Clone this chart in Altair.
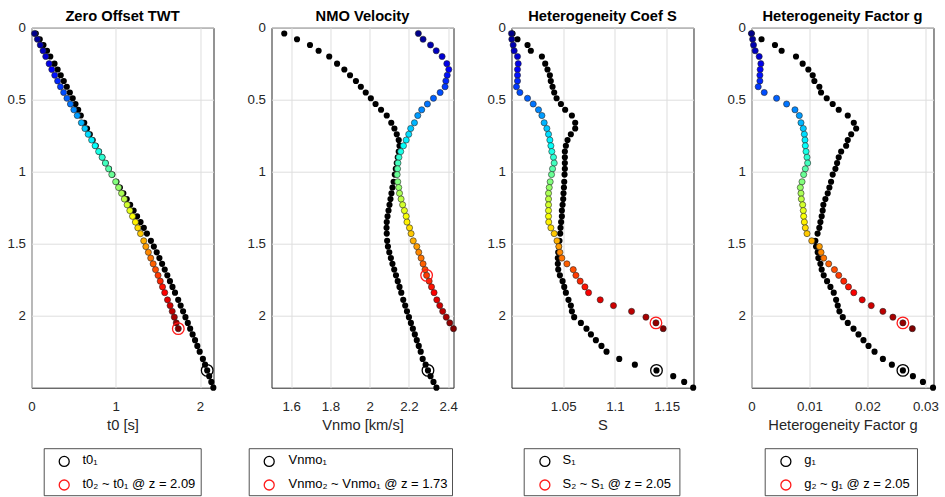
import altair as alt
import pandas as pd

# ---------------- data ----------------
depth = [0.04, 0.08, 0.12, 0.16, 0.20, 0.25, 0.29, 0.33, 0.37, 0.41,
         0.45, 0.49, 0.53, 0.57, 0.61, 0.66, 0.70, 0.74, 0.78, 0.82,
         0.86, 0.90, 0.94, 0.98, 1.02, 1.07, 1.11, 1.15, 1.19, 1.23,
         1.27, 1.31, 1.35, 1.39, 1.43, 1.48, 1.52, 1.56, 1.60, 1.64,
         1.68, 1.72, 1.76, 1.80, 1.84, 1.89, 1.93, 1.97, 2.01, 2.05,
         2.09, 2.13, 2.17, 2.21, 2.25, 2.30, 2.34, 2.38, 2.42, 2.46, 2.50]

t0_1 = [0.051, 0.098, 0.142, 0.184, 0.223, 0.273, 0.310, 0.347, 0.383, 0.419,
        0.455, 0.489, 0.522, 0.554, 0.585, 0.626, 0.659, 0.692, 0.726, 0.762,
        0.801, 0.840, 0.879, 0.919, 0.959, 1.008, 1.049, 1.090, 1.130, 1.171,
        1.212, 1.253, 1.294, 1.333, 1.370, 1.417, 1.452, 1.486, 1.518, 1.550,
        1.581, 1.612, 1.643, 1.673, 1.703, 1.741, 1.770, 1.799, 1.827, 1.855,
        1.883, 1.912, 1.941, 1.968, 1.996, 2.034, 2.060, 2.085, 2.109, 2.134, 2.158]
t0_2 = [0.036, 0.070, 0.104, 0.137, 0.169, 0.209, 0.241, 0.276, 0.310, 0.344,
        0.382, 0.421, 0.462, 0.503, 0.543, 0.592, 0.634, 0.673, 0.714, 0.755,
        0.797, 0.838, 0.877, 0.915, 0.953, 0.999, 1.034, 1.069, 1.102, 1.135,
        1.167, 1.199, 1.233, 1.262, 1.294, 1.332, 1.357, 1.387, 1.415, 1.444,
        1.472, 1.502, 1.528, 1.555, 1.581, 1.614, 1.645, 1.670, 1.695, 1.718, 1.742]

vnmo_1 = [1.565, 1.630, 1.696, 1.740, 1.794, 1.834, 1.871, 1.900, 1.930, 1.955,
          1.980, 2.006, 2.030, 2.058, 2.087, 2.110, 2.126, 2.138, 2.148, 2.152,
          2.148, 2.143, 2.138, 2.133, 2.128, 2.122, 2.116, 2.111, 2.106, 2.101,
          2.096, 2.091, 2.087, 2.086, 2.087, 2.089, 2.093, 2.100, 2.108, 2.116,
          2.125, 2.134, 2.143, 2.152, 2.161, 2.171, 2.181, 2.190, 2.200, 2.210,
          2.220, 2.230, 2.240, 2.250, 2.260, 2.270, 2.285, 2.297, 2.310, 2.325, 2.340]
vnmo_2 = [2.248, 2.272, 2.310, 2.339, 2.369, 2.393, 2.403, 2.395, 2.388, 2.384,
          2.359, 2.325, 2.294, 2.265, 2.245, 2.228, 2.209, 2.199, 2.186, 2.172,
          2.158, 2.149, 2.144, 2.142, 2.140, 2.143, 2.148, 2.152, 2.160, 2.168,
          2.177, 2.186, 2.190, 2.203, 2.211, 2.222, 2.240, 2.250, 2.262, 2.272,
          2.282, 2.290, 2.303, 2.315, 2.328, 2.342, 2.357, 2.372, 2.390, 2.408, 2.427]

s_1 = [1.0010, 1.0058, 1.0155, 1.0187, 1.0294, 1.0326, 1.0348, 1.0371, 1.0380, 1.0397,
       1.0413, 1.0436, 1.0478, 1.0519, 1.0584, 1.0616, 1.0616, 1.0574, 1.0542, 1.0526,
       1.0516, 1.0516, 1.0516, 1.0516, 1.0513, 1.0510, 1.0507, 1.0503, 1.0500, 1.0494,
       1.0487, 1.0487, 1.0480, 1.0474, 1.0471, 1.0464, 1.0458, 1.0452, 1.0448, 1.0448,
       1.0452, 1.0468, 1.0494, 1.0510, 1.0526, 1.0551, 1.0574, 1.0584, 1.0606, 1.0671,
       1.0725, 1.0768, 1.0816, 1.0870, 1.0919, 1.1042, 1.1193, 1.1402, 1.1564, 1.1670, 1.1757]
s_2 = [1.0000, 1.0003, 1.0016, 1.0026, 1.0058, 1.0065, 1.0058, 1.0058, 1.0058, 1.0048,
       1.0081, 1.0155, 1.0210, 1.0261, 1.0294, 1.0316, 1.0342, 1.0358, 1.0371, 1.0381,
       1.0390, 1.0406, 1.0413, 1.0397, 1.0387, 1.0374, 1.0365, 1.0358, 1.0358, 1.0358,
       1.0358, 1.0358, 1.0360, 1.0381, 1.0413, 1.0440, 1.0458, 1.0468, 1.0487, 1.0536,
       1.0597, 1.0623, 1.0664, 1.0710, 1.0745, 1.0858, 1.0986, 1.1161, 1.1300, 1.1397, 1.1467]

g_1 = [0.0000, 0.00173, 0.00405, 0.00520, 0.00768, 0.00883, 0.00981, 0.01056, 0.01085, 0.01171,
       0.01200, 0.01298, 0.01401, 0.01505, 0.01661, 0.01765, 0.01806, 0.01720, 0.01661, 0.01633,
       0.01547, 0.01505, 0.01477, 0.01448, 0.01401, 0.01373, 0.01344, 0.01315, 0.01275, 0.01240,
       0.01228, 0.01211, 0.01189, 0.01170, 0.01140, 0.01102, 0.01114, 0.01142, 0.01154, 0.01189,
       0.01211, 0.01246, 0.01304, 0.01362, 0.01419, 0.01460, 0.01488, 0.01517, 0.01575, 0.01661,
       0.01760, 0.01846, 0.01932, 0.02019, 0.02123, 0.02267, 0.02422, 0.02612, 0.02785, 0.02958, 0.03132]
g_2 = [0.0000, 0.0002, 0.00035, 0.00064, 0.00133, 0.00162, 0.00150, 0.00145, 0.00145, 0.00116,
       0.00220, 0.00433, 0.00606, 0.00750, 0.00825, 0.00854, 0.00894, 0.00912, 0.00923, 0.00929,
       0.00941, 0.00958, 0.00969, 0.00929, 0.00900, 0.00872, 0.00843, 0.00854, 0.00860, 0.00883,
       0.00894, 0.00900, 0.00912, 0.00929, 0.00958, 0.01040, 0.01171, 0.01200, 0.01246, 0.01332,
       0.01431, 0.01505, 0.01592, 0.01673, 0.01765, 0.01910, 0.02066, 0.02267, 0.02440, 0.02612, 0.02775]

titles = ["Zero Offset TWT", "NMO Velocity", "Heterogeneity Coef S", "Heterogeneity Factor g"]
x_titles = ["t0 [s]", "Vnmo [km/s]", "S", "Heterogeneity Factor g"]
x_domains = [[0, 2.16], [1.5, 2.427], [1.0, 1.176], [0, 0.0314]]
x_ticks = [[0, 1, 2], [1.6, 1.8, 2.0, 2.2, 2.4], [1.05, 1.1, 1.15], [0, 0.01, 0.02, 0.03]]
y_ticks = [0, 0.5, 1, 1.5, 2]
legend_1 = ["t0\u2081", "Vnmo\u2081", "S\u2081", "g\u2081"]
legend_2 = ["t0\u2082 ~ t0\u2081 @ z = 2.09", "Vnmo\u2082 ~ Vnmo\u2081 @ z = 1.73",
            "S\u2082 ~ S\u2081 @ z = 2.05", "g\u2082 ~ g\u2081 @ z = 2.05"]
mark_1 = 57
mark_2 = [50, 41, 49, 49]

series_1 = [t0_1, vnmo_1, s_1, g_1]
series_2 = [t0_2, vnmo_2, s_2, g_2]

# ---------------- style / layout ----------------
FONT = "Liberation Sans"
W, H = 182, 360
jet_stops = [0.04, 0.296, 0.809, 1.321, 1.834, 2.09]
jet_colors = ["#00008a", "#0000ff", "#00ffff", "#ffff00", "#ff0000", "#800000"]
box_x = [(12.7, 169.7), (-22.3, 181.0), (12.7, 168.4), (13.7, 166.0)]
circ_x = [32.7, -2.3, 33.4, 34.4]
text_x = [51.0, 17.0, 51.0, 52.7]
LEG_Y1, LEG_Y2 = 433.7, 457.3
BOX_Y = (421, 468)
TITLE_Y = -6.7


def panel(i):
    xs1 = series_1[i]
    xs2 = series_2[i]
    d1 = pd.DataFrame({"x": xs1, "z": depth[:len(xs1)]})
    d2 = pd.DataFrame({"x": xs2, "z": depth[:len(xs2)]})
    xsc = alt.Scale(domain=x_domains[i], nice=False, zero=False)
    ysc = alt.Scale(domain=[0, 2.5], reverse=True, nice=False, zero=False)
    xax = alt.Axis(values=x_ticks[i], format="~g", title=x_titles[i], grid=True,
                   ticks=False, domain=False, labelPadding=12, titlePadding=5,
                   labelFlush=False)
    yax = alt.Axis(values=y_ticks, format="~g", title=None, grid=True,
                   ticks=False, domain=False, labelPadding=6, labelFlush=False)

    black = alt.Chart(d1).mark_circle(size=38, color="black", opacity=1).encode(
        x=alt.X("x:Q", scale=xsc, axis=xax),
        y=alt.Y("z:Q", scale=ysc, axis=yax),
    )
    colored = alt.Chart(d2).mark_circle(size=38, opacity=1, stroke="#262626",
                                        strokeWidth=0.6).encode(
        x="x:Q", y="z:Q",
        fill=alt.Fill("z:Q", scale=alt.Scale(domain=jet_stops, range=jet_colors,
                                             interpolate="rgb"), legend=None),
    )
    h1 = alt.Chart(pd.DataFrame({"x": [xs1[mark_1]], "z": [depth[mark_1]]})).mark_point(
        shape="circle", filled=False, size=135, strokeWidth=1.3, color="black", opacity=1
    ).encode(x="x:Q", y="z:Q")
    k2 = mark_2[i]
    h2 = alt.Chart(pd.DataFrame({"x": [xs2[k2]], "z": [depth[k2]]})).mark_point(
        shape="circle", filled=False, size=135, strokeWidth=1.3, color="#ff1a1a", opacity=1
    ).encode(x="x:Q", y="z:Q")

    one = pd.DataFrame({"k": [0]})
    title = alt.Chart(pd.DataFrame({"label": [titles[i]]})).mark_text(
        align="center", baseline="alphabetic", font=FONT, fontSize=14.7,
        fontWeight="bold", color="black"
    ).encode(x=alt.value(W / 2), y=alt.value(TITLE_Y), text="label:N")
    box = alt.Chart(one).mark_rect(fill="white", stroke="#262626", strokeWidth=0.8).encode(
        x=alt.value(box_x[i][0]), x2=alt.value(box_x[i][1]),
        y=alt.value(BOX_Y[0]), y2=alt.value(BOX_Y[1]),
    )
    lc1 = alt.Chart(one).mark_point(shape="circle", filled=False, size=100, strokeWidth=1.3,
                                    color="black", opacity=1).encode(
        x=alt.value(circ_x[i]), y=alt.value(LEG_Y1))
    lc2 = alt.Chart(one).mark_point(shape="circle", filled=False, size=100, strokeWidth=1.3,
                                    color="#ff1a1a", opacity=1).encode(
        x=alt.value(circ_x[i]), y=alt.value(LEG_Y2))
    lt1 = alt.Chart(pd.DataFrame({"label": [legend_1[i]]})).mark_text(
        align="left", baseline="middle", font=FONT, fontSize=13, color="black", dy=-1
    ).encode(x=alt.value(text_x[i]), y=alt.value(LEG_Y1), text="label:N")
    lt2 = alt.Chart(pd.DataFrame({"label": [legend_2[i]]})).mark_text(
        align="left", baseline="middle", font=FONT, fontSize=13, color="black", dy=-1
    ).encode(x=alt.value(text_x[i]), y=alt.value(LEG_Y2), text="label:N")

    return alt.layer(black, colored, h1, h2, title, box, lc1, lc2, lt1, lt2).properties(
        width=W, height=H,
    )


chart = alt.hconcat(*[panel(i) for i in range(4)], spacing=58, bounds="flush").configure_view(
    stroke="#262626", strokeWidth=1
).configure_axis(
    gridColor="#dedede", gridWidth=1, gridOpacity=1,
    labelFont=FONT, labelFontSize=13.3, labelColor="#262626",
    titleFont=FONT, titleFontSize=14.7, titleColor="#262626", titleFontWeight="normal",
).properties(
    padding={"left": 6.5, "top": 7.7, "right": 5, "bottom": 0},
    background="white",
)

chart.save("out.html", embed_options={"renderer": "svg", "actions": False})
